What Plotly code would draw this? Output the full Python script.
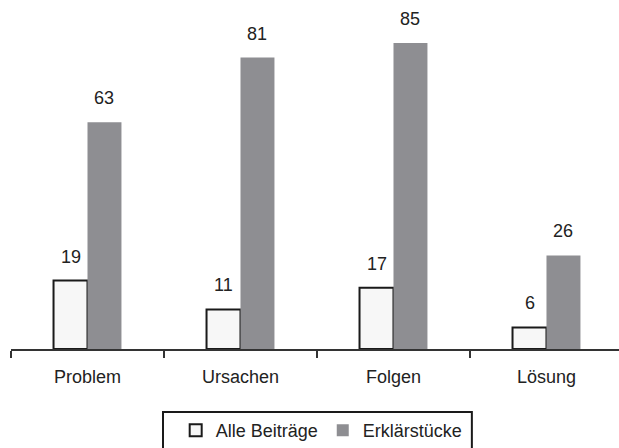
import plotly.graph_objects as go

categories = ["Problem", "Ursachen", "Folgen", "Lösung"]
alle_beitraege = [19, 11, 17, 6]
erklaerstuecke = [63, 81, 85, 26]
series_names = ["Alle Beiträge", "Erklärstücke"]

FONT = "Liberation Sans, Arial, sans-serif"
TEXT_COLOR = "#222222"
FS = 18

fig = go.Figure()
fig.add_trace(go.Bar(
    name=series_names[0], x=categories, y=alle_beitraege,
    marker=dict(color="#f7f7f7", line=dict(color="#1a1a1a", width=2)),
))
fig.add_trace(go.Bar(
    name=series_names[1], x=categories, y=erklaerstuecke,
    marker=dict(color="#8e8e92", line=dict(width=0)),
))

# value labels above each bar (bars sit at ±0.111 of the category centre)
half = 0.111
for i, (a, b) in enumerate(zip(alle_beitraege, erklaerstuecke)):
    for off, v in ((-half, a), (half, b)):
        fig.add_annotation(
            x=i + off, y=v, xref="x", yref="y", text=str(v),
            showarrow=False, yanchor="bottom", yshift=12,
            font=dict(family=FONT, size=FS, color=TEXT_COLOR),
        )

# frame around the legend, running off the bottom edge
fig.add_shape(
    type="rect", xref="paper", yref="paper",
    x0=0.25, x1=0.758, y0=-0.32, y1=-0.186,
    line=dict(color="#1a1a1a", width=2), fillcolor="rgba(0,0,0,0)",
)

fig.update_layout(
    width=619, height=448,
    margin=dict(l=11, r=0, t=10, b=99, autoexpand=False),
    paper_bgcolor="white", plot_bgcolor="white",
    barmode="group", bargap=0.556, bargroupgap=0,
    font=dict(family=FONT, size=FS, color=TEXT_COLOR),
    showlegend=True,
    legend=dict(
        orientation="h", x=0.511, xanchor="center", y=-0.186, yanchor="top",
        borderwidth=0, bgcolor="rgba(0,0,0,0)",
        font=dict(family=FONT, size=FS, color=TEXT_COLOR),
        itemwidth=30,
    ),
)
fig.update_xaxes(
    range=[-0.5, 3.474], tickson="boundaries", ticks="outside",
    ticklen=7, tickwidth=2, tickcolor="#333333",
    showline=True, linecolor="#333333", linewidth=2,
    showgrid=False, ticklabelstandoff=10,
    tickfont=dict(family=FONT, size=FS, color=TEXT_COLOR),
)
fig.update_yaxes(range=[0, 94.2], visible=False, showgrid=False)

fig.write_html("out.html")
